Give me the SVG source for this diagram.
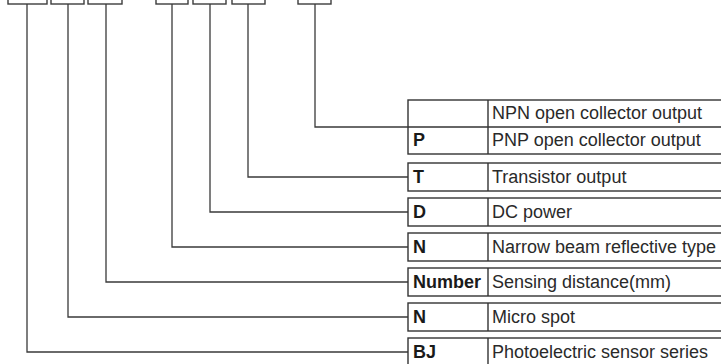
<svg xmlns="http://www.w3.org/2000/svg" width="721" height="364" viewBox="0 0 721 364">
<style>
.box{fill:#fff;stroke:#3c3c3c;stroke-width:1.4}
.cell{fill:#fff;stroke:#333;stroke-width:1.4}
.conn{fill:none;stroke:#3a3a3a;stroke-width:1.3}
.lbl{font-family:"Liberation Sans",Arial,sans-serif;font-size:18px;font-weight:bold;fill:#1a1a1a}
.dsc{font-family:"Liberation Sans",Arial,sans-serif;font-size:18px;fill:#2a2a2a}
</style>
<rect width="721" height="364" fill="#fff"/>
<g id="code-boxes">
<g id="code1"><rect class="box" x="8" y="-20" width="39" height="24"/></g>
<g id="code2"><rect class="box" x="51" y="-20" width="33" height="24"/></g>
<g id="code3"><rect class="box" x="88" y="-20" width="34" height="24"/></g>
<g id="code4"><rect class="box" x="156" y="-20" width="32" height="24"/></g>
<g id="code5"><rect class="box" x="193" y="-20" width="33" height="24"/></g>
<g id="code6"><rect class="box" x="232" y="-20" width="33" height="24"/></g>
<g id="code7"><rect class="box" x="298" y="-20" width="33" height="24"/></g>
</g>
<g id="connectors">
<polyline class="conn" points="315,4 315,127 408,127"/>
<polyline class="conn" points="248,4 248,177 408,177"/>
<polyline class="conn" points="210,4 210,212 408,212"/>
<polyline class="conn" points="172,4 172,247 408,247"/>
<polyline class="conn" points="106,4 106,282 408,282"/>
<polyline class="conn" points="68,4 68,317 408,317"/>
<polyline class="conn" points="27,4 27,352 408,352"/>
</g>
<g id="output-type">
<rect class="cell" x="408" y="100" width="320" height="54"/>
<line class="cell" x1="408" y1="127" x2="728" y2="127"/>
<line class="cell" x1="488" y1="100" x2="488" y2="154"/>
<text class="dsc" x="492" y="119">NPN open collector output</text>
<text class="lbl" x="413" y="146">P</text>
<text class="dsc" x="492" y="146">PNP open collector output</text>
</g>
<g id="row-T">
<rect class="cell" x="408" y="163" width="320" height="28"/>
<line class="cell" x1="488" y1="163" x2="488" y2="191"/>
<text class="lbl" x="413" y="183">T</text>
<text class="dsc" x="492" y="183">Transistor output</text>
</g>
<g id="row-D">
<rect class="cell" x="408" y="198" width="320" height="28"/>
<line class="cell" x1="488" y1="198" x2="488" y2="226"/>
<text class="lbl" x="413" y="218">D</text>
<text class="dsc" x="492" y="218">DC power</text>
</g>
<g id="row-N1">
<rect class="cell" x="408" y="233" width="320" height="28"/>
<line class="cell" x1="488" y1="233" x2="488" y2="261"/>
<text class="lbl" x="413" y="253">N</text>
<text class="dsc" x="492" y="253">Narrow beam reflective type</text>
</g>
<g id="row-number">
<rect class="cell" x="408" y="268" width="320" height="28"/>
<line class="cell" x1="488" y1="268" x2="488" y2="296"/>
<text class="lbl" x="413" y="288">Number</text>
<text class="dsc" x="492" y="288">Sensing distance(mm)</text>
</g>
<g id="row-N2">
<rect class="cell" x="408" y="303" width="320" height="28"/>
<line class="cell" x1="488" y1="303" x2="488" y2="331"/>
<text class="lbl" x="413" y="323">N</text>
<text class="dsc" x="492" y="323">Micro spot</text>
</g>
<g id="row-BJ">
<rect class="cell" x="408" y="338" width="320" height="28"/>
<line class="cell" x1="488" y1="338" x2="488" y2="366"/>
<text class="lbl" x="413" y="358">BJ</text>
<text class="dsc" x="492" y="358">Photoelectric sensor series</text>
</g>
</svg>
